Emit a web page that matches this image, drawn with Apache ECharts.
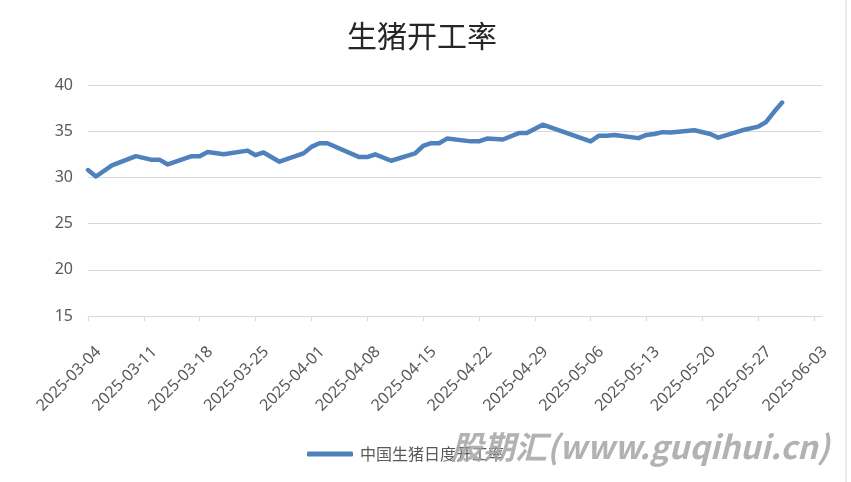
<!DOCTYPE html>
<html>
<head>
<meta charset="utf-8">
<script src="https://cdn.jsdelivr.net/npm/echarts@6/dist/echarts.min.js"></script>
<style>
html,body{margin:0;padding:0;background:#fff;}
#chart{width:851px;height:482px;}
</style>
</head>
<body>
<div id="chart"></div>
<script>
var titleText = '生猪开工率';
var seriesName = '中国生猪日度开工率';
var watermarkText = '股期汇(www.guqihui.cn)';
var axisStart = '2025-03-04';
var axisEnd = '2025-06-04';
var yTicks = [15, 20, 25, 30, 35, 40];

var dates = ['2025-03-04','2025-03-05','2025-03-07','2025-03-10','2025-03-12','2025-03-13','2025-03-14','2025-03-17','2025-03-18','2025-03-19','2025-03-21','2025-03-24','2025-03-25','2025-03-26','2025-03-28','2025-03-31','2025-04-01','2025-04-02','2025-04-03','2025-04-07','2025-04-08','2025-04-09','2025-04-11','2025-04-14','2025-04-15','2025-04-16','2025-04-17','2025-04-18','2025-04-21','2025-04-22','2025-04-23','2025-04-25','2025-04-27','2025-04-28','2025-04-30','2025-05-06','2025-05-07','2025-05-08','2025-05-09','2025-05-12','2025-05-13','2025-05-14','2025-05-15','2025-05-16','2025-05-19','2025-05-21','2025-05-22','2025-05-25','2025-05-27','2025-05-28','2025-05-29','2025-05-30'];
var values = [30.8,30.1,31.3,32.3,31.9,31.9,31.4,32.3,32.3,32.75,32.5,32.9,32.4,32.7,31.7,32.6,33.3,33.7,33.7,32.2,32.2,32.5,31.8,32.6,33.4,33.7,33.7,34.2,33.9,33.9,34.2,34.1,34.8,34.8,35.7,33.9,34.5,34.5,34.6,34.25,34.6,34.7,34.9,34.85,35.1,34.7,34.3,35.1,35.5,36.0,37.1,38.1];

function fmt(d){
  var m = d.getMonth()+1, day = d.getDate();
  return d.getFullYear() + '-' + (m<10?'0':'') + m + '-' + (day<10?'0':'') + day;
}
var categories = [];
(function(){
  var p = axisStart.split('-'), e = axisEnd;
  var d = new Date(+p[0], +p[1]-1, +p[2]);
  while (true) {
    var s = fmt(d);
    categories.push(s);
    if (s === e) break;
    d.setDate(d.getDate()+1);
  }
})();
var lookup = {};
dates.forEach(function(d,i){ lookup[d] = values[i]; });
var seriesData = categories.map(function(c){ return lookup.hasOwnProperty(c) ? lookup[c] : null; });

var chart = echarts.init(document.getElementById('chart'));
chart.setOption({
  animation: false,
  backgroundColor: '#fff',
  title: {
    text: titleText,
    left: 342, top: 16,
    textStyle: { fontFamily: 'Noto Sans CJK SC', fontSize: 30, fontWeight: 'normal', color: '#262626' }
  },
  grid: { left: 88, right: 29, top: 85, bottom: 166, containLabel: false },
  legend: {
    left: 302, top: 441,
    itemWidth: 46, itemHeight: 5, itemGap: 10,
    textStyle: { fontFamily: 'Noto Sans CJK SC', fontSize: 16, color: '#595959', padding: [0,0,0,2] },
    data: [{ name: seriesName, icon: 'roundRect' }]
  },
  xAxis: {
    type: 'category',
    data: categories,
    boundaryGap: false,
    axisLine: { lineStyle: { color: '#d9d9d9', width: 1 } },
    axisTick: { show: true, length: 5, interval: function(i){ return i % 7 === 0; }, lineStyle: { color: '#d9d9d9' } },
    axisLabel: {
      interval: function(i){ return i % 7 === 0; },
      rotate: 45,
      margin: 44,
      padding: [0, -15, 0, 0],
      fontFamily: 'Noto Sans', fontSize: 16, color: '#595959'
    },
    splitLine: { show: false }
  },
  yAxis: {
    type: 'value',
    min: yTicks[0], max: yTicks[yTicks.length-1], interval: 5,
    axisLine: { show: false },
    axisTick: { show: false },
    axisLabel: { margin: 15, fontFamily: 'Noto Sans', fontSize: 16, color: '#595959' },
    splitLine: { lineStyle: { color: '#d9d9d9', width: 1 } }
  },
  series: [{
    name: seriesName,
    type: 'line',
    data: seriesData,
    connectNulls: true,
    symbol: 'none',
    smooth: false,
    lineStyle: { color: '#4f81bd', width: 4.5, cap: 'round', join: 'round' },
    itemStyle: { color: '#4f81bd' }
  }],
  graphic: [
    { type: 'line', shape: { x1: 846, y1: 0, x2: 846, y2: 482 }, style: { stroke: '#d9d9d9', lineWidth: 1 }, z: 10 },
    { type: 'text', left: 451, top: 431, z: 20,
      style: { text: watermarkText, fontFamily: 'Noto Sans CJK SC', fontSize: 32, fontWeight: 'bold', fontStyle: 'italic', fill: 'rgba(165,165,165,0.85)' } }
  ]
});
</script>
</body>
</html>
